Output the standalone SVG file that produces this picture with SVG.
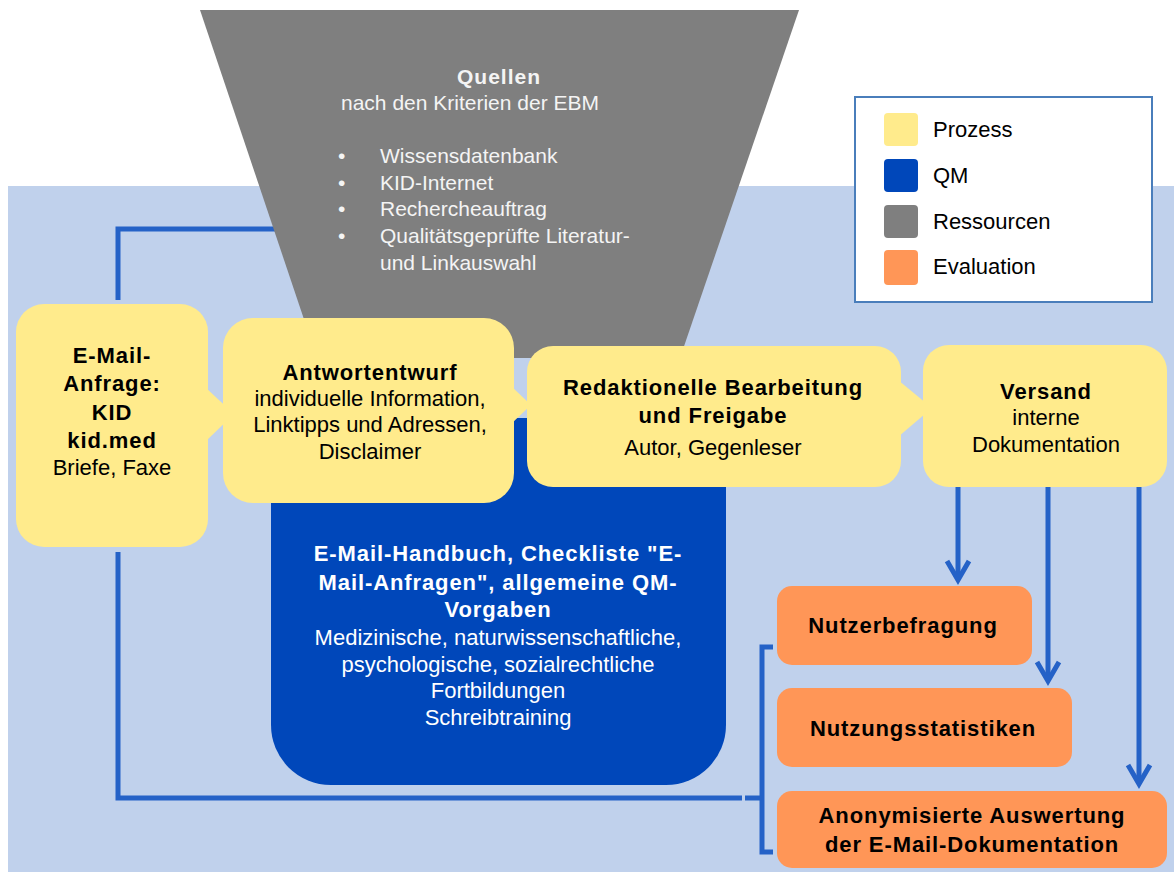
<svg xmlns="http://www.w3.org/2000/svg" width="1174" height="872" viewBox="0 0 1174 872">
  <style>
    text { font-family: "Liberation Sans", Arial, sans-serif; text-anchor: middle; }
    .b { font-weight: bold; font-size: 22px; letter-spacing: 0.9px; fill: #000; }
    .r { font-size: 22px; fill: #000; }
    .g { font-size: 21px; fill: #F4F4F4; }
    .gb { font-size: 21px; font-weight: bold; letter-spacing: 1px; fill: #F4F4F4; }
    .wb { font-weight: bold; font-size: 22px; letter-spacing: 0.9px; fill: #FFFFFF; }
    .wr { font-size: 22px; fill: #FFFFFF; }
    .lg { font-size: 22px; fill: #000; text-anchor: start; }
    .proc { fill: #FFEB8C; }
    .eval { fill: #FF9657; }
    .link { fill: none; stroke: #2562C7; stroke-width: 5; }
  </style>
  <defs>
    <marker id="chevron" viewBox="-26 -15 32 30" refX="0" refY="0" markerWidth="32" markerHeight="30" markerUnits="userSpaceOnUse" orient="auto">
      <path d="M-19,-11 L0,0 L-19,11" fill="none" stroke="#2562C7" stroke-width="5"/>
    </marker>
  </defs>

  <!-- white page with the light blue work area -->
  <rect x="0" y="0" width="1174" height="872" fill="#FFFFFF"/>
  <rect id="work-area" x="8" y="186" width="1166" height="686" fill="#C0D1EC"/>

  <!-- feedback loop running behind the sources funnel -->
  <g id="connectors-back">
    <path class="link" d="M118,300 V229 H290"/>
  </g>

  <!-- sources funnel -->
  <g id="quellen">
    <polygon points="200,10 799,10 680,358 317,358" fill="#7F7F7F"/>
    <text class="gb" x="499" y="84">Quellen</text>
    <text class="g" x="470" y="110">nach den Kriterien der EBM</text>
    <text class="g" x="338" y="163" style="text-anchor:start">•</text>
    <text class="g" x="380" y="163" style="text-anchor:start">Wissensdatenbank</text>
    <text class="g" x="338" y="190" style="text-anchor:start">•</text>
    <text class="g" x="380" y="190" style="text-anchor:start">KID-Internet</text>
    <text class="g" x="338" y="216" style="text-anchor:start">•</text>
    <text class="g" x="380" y="216" style="text-anchor:start">Rechercheauftrag</text>
    <text class="g" x="338" y="243" style="text-anchor:start">•</text>
    <text class="g" x="380" y="243" style="text-anchor:start">Qualitätsgeprüfte Literatur-</text>
    <text class="g" x="380" y="270" style="text-anchor:start">und Linkauswahl</text>
  </g>

  <!-- quality management block -->
  <g id="qm">
    <path d="M271,418 H726 V725 A60,60 0 0 1 666,785 H331 A60,60 0 0 1 271,725 Z" fill="#0047BA"/>
    <text class="wb" x="498" y="561">E-Mail-Handbuch, Checkliste "E-</text>
    <text class="wb" x="498" y="590">Mail-Anfragen", allgemeine QM-</text>
    <text class="wb" x="498" y="617">Vorgaben</text>
    <text class="wr" x="498" y="645">Medizinische, naturwissenschaftliche,</text>
    <text class="wr" x="498" y="672">psychologische, sozialrechtliche</text>
    <text class="wr" x="498" y="698">Fortbildungen</text>
    <text class="wr" x="498" y="725">Schreibtraining</text>
  </g>

  <!-- process steps -->
  <g id="email-anfrage">
    <rect class="proc" x="16" y="304" width="192" height="243" rx="28"/>
    <polygon class="proc" points="205,387 234,414 205,442"/>
    <text class="b" x="112" y="363">E-Mail-</text>
    <text class="b" x="112" y="391">Anfrage:</text>
    <text class="b" x="112" y="420">KID</text>
    <text class="b" x="112" y="448">kid.med</text>
    <text class="r" x="112" y="475">Briefe, Faxe</text>
  </g>

  <g id="antwortentwurf">
    <rect class="proc" x="223" y="318" width="291" height="185" rx="30"/>
    <polygon class="proc" points="511,386 531,405 511,424"/>
    <text class="b" x="370" y="380">Antwortentwurf</text>
    <text class="r" x="370" y="406">individuelle Information,</text>
    <text class="r" x="370" y="432">Linktipps und Adressen,</text>
    <text class="r" x="370" y="459">Disclaimer</text>
  </g>

  <g id="redaktion">
    <rect class="proc" x="527" y="346" width="374" height="141" rx="26"/>
    <polygon class="proc" points="898,380 932,408 898,437"/>
    <text class="b" x="713" y="395">Redaktionelle Bearbeitung</text>
    <text class="b" x="713" y="423">und Freigabe</text>
    <text class="r" x="713" y="455">Autor, Gegenleser</text>
  </g>

  <g id="versand">
    <rect class="proc" x="923" y="345" width="244" height="142" rx="26"/>
    <text class="b" x="1046" y="399">Versand</text>
    <text class="r" x="1046" y="425">interne</text>
    <text class="r" x="1046" y="452">Dokumentation</text>
  </g>

  <!-- evaluation steps -->
  <g id="nutzerbefragung">
    <rect class="eval" x="777" y="586" width="255" height="79" rx="15"/>
    <text class="b" x="903" y="633">Nutzerbefragung</text>
  </g>

  <g id="nutzungsstatistiken">
    <rect class="eval" x="777" y="688" width="295" height="79" rx="15"/>
    <text class="b" x="923" y="736">Nutzungsstatistiken</text>
  </g>

  <g id="auswertung">
    <rect class="eval" x="777" y="791" width="390" height="77" rx="15"/>
    <text class="b" x="972" y="823">Anonymisierte Auswertung</text>
    <text class="b" x="972" y="852">der E-Mail-Dokumentation</text>
  </g>

  <!-- connectors -->
  <g id="connectors">
    <path class="link" d="M118,552 V798 H742"/>
    <path class="link" d="M773,647 H762 V852 H773"/>
    <path class="link" d="M745,798 H762"/>
    <line class="link" x1="958" y1="487" x2="958" y2="580" marker-end="url(#chevron)"/>
    <line class="link" x1="1048" y1="487" x2="1048" y2="681" marker-end="url(#chevron)"/>
    <line class="link" x1="1139" y1="487" x2="1139" y2="784" marker-end="url(#chevron)"/>
  </g>

  <!-- legend -->
  <g id="legend">
    <rect x="855" y="97" width="297" height="205" fill="#FFFFFF" stroke="#4A7EBB" stroke-width="2"/>
    <rect x="884" y="113" width="34" height="33" rx="4" fill="#FFEB8C"/>
    <rect x="884" y="159" width="34" height="33" rx="4" fill="#0047BA"/>
    <rect x="884" y="205" width="34" height="33" rx="4" fill="#7F7F7F"/>
    <rect x="884" y="250" width="34" height="35" rx="4" fill="#FF9657"/>
    <text class="lg" x="933" y="137">Prozess</text>
    <text class="lg" x="933" y="183">QM</text>
    <text class="lg" x="933" y="229">Ressourcen</text>
    <text class="lg" x="933" y="274">Evaluation</text>
  </g>
</svg>
